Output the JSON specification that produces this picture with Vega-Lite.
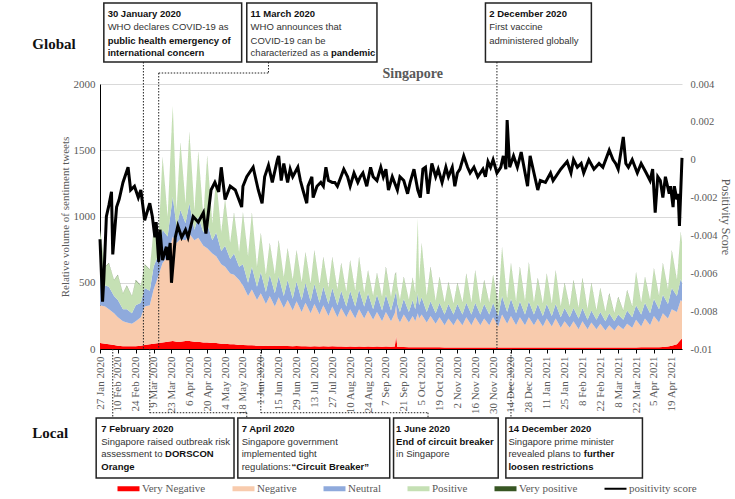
{
"$schema":"https://vega.github.io/schema/vega-lite/v6.json",
"width":582,"height":265,
"autosize":{"type":"none"},
"padding":{"left":100,"top":84,"right":53,"bottom":150},
"background":"white",
"config":{"view":{"stroke":null},"font":"Liberation Serif","axisX":{"labelOverlap":false,"labelFlush":false,"labelBound":false,"tickCount":60}},
"datasets":{
"cats":[{"key":"vn","cat":"Very Negative","ord":1},{"key":"n","cat":"Negative","ord":2},{"key":"neu","cat":"Neutral","ord":3},{"key":"p","cat":"Positive","ord":4},{"key":"vp","cat":"Very positive","ord":5}],
"vol":[
{"d":"2020-01-27","vn":45,"n":285,"neu":270,"p":296,"vp":4},
{"d":"2020-01-31","vn":40,"n":280,"neu":160,"p":138,"vp":2},
{"d":"2020-02-03","vn":35,"n":265,"neu":170,"p":176,"vp":4},
{"d":"2020-02-07","vn":30,"n":240,"neu":130,"p":118,"vp":2},
{"d":"2020-02-10","vn":25,"n":215,"neu":130,"p":186,"vp":4},
{"d":"2020-02-14","vn":20,"n":190,"neu":90,"p":118,"vp":2},
{"d":"2020-02-17","vn":20,"n":180,"neu":100,"p":176,"vp":4},
{"d":"2020-02-21","vn":20,"n":170,"neu":80,"p":128,"vp":2},
{"d":"2020-02-24","vn":20,"n":190,"neu":120,"p":186,"vp":4},
{"d":"2020-02-28","vn":25,"n":215,"neu":110,"p":128,"vp":2},
{"d":"2020-03-02","vn":30,"n":290,"neu":140,"p":176,"vp":4},
{"d":"2020-03-06","vn":35,"n":295,"neu":110,"p":158,"vp":2},
{"d":"2020-03-09","vn":40,"n":410,"neu":170,"p":276,"vp":4},
{"d":"2020-03-13","vn":45,"n":515,"neu":160,"p":138,"vp":2},
{"d":"2020-03-16","vn":50,"n":600,"neu":250,"p":546,"vp":4},
{"d":"2020-03-20","vn":55,"n":645,"neu":150,"p":148,"vp":2},
{"d":"2020-03-24","vn":60,"n":790,"neu":300,"p":686,"vp":4},
{"d":"2020-03-27","vn":55,"n":745,"neu":120,"p":128,"vp":2},
{"d":"2020-03-30","vn":55,"n":775,"neu":220,"p":506,"vp":4},
{"d":"2020-04-03","vn":60,"n":760,"neu":130,"p":148,"vp":2},
{"d":"2020-04-06","vn":60,"n":810,"neu":230,"p":536,"vp":4},
{"d":"2020-04-10","vn":55,"n":765,"neu":80,"p":148,"vp":2},
{"d":"2020-04-13","vn":55,"n":785,"neu":160,"p":486,"vp":4},
{"d":"2020-04-17","vn":50,"n":730,"neu":100,"p":118,"vp":2},
{"d":"2020-04-20","vn":50,"n":710,"neu":190,"p":506,"vp":4},
{"d":"2020-04-24","vn":45,"n":675,"neu":100,"p":128,"vp":2},
{"d":"2020-04-27","vn":45,"n":655,"neu":180,"p":396,"vp":4},
{"d":"2020-05-01","vn":40,"n":600,"neu":100,"p":138,"vp":2},
{"d":"2020-05-04","vn":40,"n":580,"neu":160,"p":346,"vp":4},
{"d":"2020-05-08","vn":35,"n":535,"neu":110,"p":118,"vp":2},
{"d":"2020-05-11","vn":35,"n":525,"neu":160,"p":306,"vp":4},
{"d":"2020-05-15","vn":30,"n":490,"neu":100,"p":108,"vp":2},
{"d":"2020-05-18","vn":30,"n":450,"neu":160,"p":386,"vp":4},
{"d":"2020-05-22","vn":28,"n":372,"neu":100,"p":198,"vp":2},
{"d":"2020-05-25","vn":28,"n":422,"neu":170,"p":406,"vp":4},
{"d":"2020-05-29","vn":25,"n":345,"neu":100,"p":148,"vp":2},
{"d":"2020-06-01","vn":25,"n":395,"neu":160,"p":291,"vp":4},
{"d":"2020-06-05","vn":23,"n":317,"neu":90,"p":128,"vp":2},
{"d":"2020-06-08","vn":25,"n":375,"neu":160,"p":236,"vp":4},
{"d":"2020-06-12","vn":22,"n":298,"neu":100,"p":138,"vp":2},
{"d":"2020-06-15","vn":25,"n":365,"neu":160,"p":266,"vp":4},
{"d":"2020-06-19","vn":22,"n":288,"neu":90,"p":138,"vp":2},
{"d":"2020-06-22","vn":22,"n":348,"neu":150,"p":236,"vp":4},
{"d":"2020-06-26","vn":20,"n":270,"neu":90,"p":138,"vp":2},
{"d":"2020-06-29","vn":22,"n":338,"neu":150,"p":231,"vp":4},
{"d":"2020-07-03","vn":20,"n":260,"neu":90,"p":128,"vp":2},
{"d":"2020-07-06","vn":20,"n":330,"neu":150,"p":226,"vp":4},
{"d":"2020-07-10","vn":18,"n":252,"neu":90,"p":128,"vp":2},
{"d":"2020-07-13","vn":20,"n":320,"neu":150,"p":251,"vp":4},
{"d":"2020-07-17","vn":18,"n":242,"neu":90,"p":128,"vp":2},
{"d":"2020-07-20","vn":20,"n":310,"neu":140,"p":221,"vp":4},
{"d":"2020-07-24","vn":18,"n":232,"neu":90,"p":118,"vp":2},
{"d":"2020-07-27","vn":20,"n":300,"neu":140,"p":231,"vp":4},
{"d":"2020-07-31","vn":18,"n":222,"neu":90,"p":118,"vp":2},
{"d":"2020-08-03","vn":18,"n":292,"neu":130,"p":206,"vp":4},
{"d":"2020-08-07","vn":17,"n":223,"neu":80,"p":108,"vp":2},
{"d":"2020-08-10","vn":18,"n":282,"neu":140,"p":226,"vp":4},
{"d":"2020-08-14","vn":17,"n":213,"neu":90,"p":118,"vp":2},
{"d":"2020-08-17","vn":18,"n":282,"neu":150,"p":241,"vp":4},
{"d":"2020-08-21","vn":17,"n":213,"neu":90,"p":98,"vp":2},
{"d":"2020-08-24","vn":18,"n":272,"neu":130,"p":171,"vp":4},
{"d":"2020-08-28","vn":17,"n":203,"neu":80,"p":98,"vp":2},
{"d":"2020-08-31","vn":18,"n":262,"neu":130,"p":161,"vp":4},
{"d":"2020-09-04","vn":17,"n":193,"neu":80,"p":98,"vp":2},
{"d":"2020-09-07","vn":18,"n":262,"neu":130,"p":206,"vp":4},
{"d":"2020-09-11","vn":17,"n":193,"neu":80,"p":98,"vp":2},
{"d":"2020-09-14","vn":18,"n":252,"neu":130,"p":156,"vp":4},
{"d":"2020-09-15","vn":100,"n":230,"neu":110,"p":136,"vp":4},
{"d":"2020-09-16","vn":16,"n":224,"neu":100,"p":128,"vp":2},
{"d":"2020-09-18","vn":15,"n":185,"neu":80,"p":88,"vp":2},
{"d":"2020-09-21","vn":15,"n":245,"neu":120,"p":161,"vp":4},
{"d":"2020-09-25","vn":14,"n":186,"neu":80,"p":88,"vp":2},
{"d":"2020-09-28","vn":14,"n":236,"neu":120,"p":166,"vp":4},
{"d":"2020-09-30","vn":14,"n":196,"neu":90,"p":118,"vp":2},
{"d":"2020-10-02","vn":14,"n":256,"neu":150,"p":566,"vp":4},
{"d":"2020-10-03","vn":14,"n":216,"neu":100,"p":188,"vp":2},
{"d":"2020-10-05","vn":14,"n":246,"neu":130,"p":406,"vp":4},
{"d":"2020-10-09","vn":13,"n":187,"neu":80,"p":118,"vp":2},
{"d":"2020-10-12","vn":13,"n":237,"neu":110,"p":256,"vp":4},
{"d":"2020-10-16","vn":13,"n":177,"neu":80,"p":88,"vp":2},
{"d":"2020-10-19","vn":13,"n":227,"neu":110,"p":191,"vp":4},
{"d":"2020-10-23","vn":12,"n":168,"neu":80,"p":88,"vp":2},
{"d":"2020-10-26","vn":12,"n":218,"neu":110,"p":161,"vp":4},
{"d":"2020-10-30","vn":12,"n":168,"neu":80,"p":78,"vp":2},
{"d":"2020-11-02","vn":12,"n":218,"neu":110,"p":156,"vp":4},
{"d":"2020-11-06","vn":12,"n":168,"neu":80,"p":88,"vp":2},
{"d":"2020-11-09","vn":12,"n":228,"neu":110,"p":216,"vp":4},
{"d":"2020-11-13","vn":12,"n":168,"neu":80,"p":88,"vp":2},
{"d":"2020-11-16","vn":12,"n":228,"neu":110,"p":241,"vp":4},
{"d":"2020-11-20","vn":12,"n":168,"neu":80,"p":78,"vp":2},
{"d":"2020-11-23","vn":12,"n":218,"neu":110,"p":176,"vp":4},
{"d":"2020-11-27","vn":12,"n":168,"neu":80,"p":88,"vp":2},
{"d":"2020-11-30","vn":12,"n":228,"neu":110,"p":206,"vp":4},
{"d":"2020-12-04","vn":12,"n":158,"neu":80,"p":88,"vp":2},
{"d":"2020-12-07","vn":12,"n":248,"neu":140,"p":366,"vp":4},
{"d":"2020-12-11","vn":12,"n":178,"neu":90,"p":98,"vp":2},
{"d":"2020-12-14","vn":12,"n":238,"neu":130,"p":266,"vp":4},
{"d":"2020-12-18","vn":12,"n":168,"neu":90,"p":88,"vp":2},
{"d":"2020-12-21","vn":12,"n":228,"neu":120,"p":256,"vp":4},
{"d":"2020-12-25","vn":12,"n":168,"neu":80,"p":98,"vp":2},
{"d":"2020-12-28","vn":12,"n":228,"neu":120,"p":291,"vp":4},
{"d":"2021-01-01","vn":12,"n":168,"neu":80,"p":88,"vp":2},
{"d":"2021-01-04","vn":12,"n":218,"neu":110,"p":191,"vp":4},
{"d":"2021-01-08","vn":12,"n":158,"neu":80,"p":88,"vp":2},
{"d":"2021-01-11","vn":12,"n":218,"neu":110,"p":226,"vp":4},
{"d":"2021-01-15","vn":12,"n":158,"neu":80,"p":88,"vp":2},
{"d":"2021-01-18","vn":12,"n":218,"neu":110,"p":251,"vp":4},
{"d":"2021-01-22","vn":12,"n":148,"neu":80,"p":78,"vp":2},
{"d":"2021-01-25","vn":12,"n":198,"neu":100,"p":186,"vp":4},
{"d":"2021-01-29","vn":12,"n":148,"neu":80,"p":78,"vp":2},
{"d":"2021-02-01","vn":12,"n":198,"neu":100,"p":206,"vp":4},
{"d":"2021-02-05","vn":12,"n":138,"neu":80,"p":78,"vp":2},
{"d":"2021-02-08","vn":12,"n":198,"neu":100,"p":221,"vp":4},
{"d":"2021-02-12","vn":12,"n":138,"neu":70,"p":78,"vp":2},
{"d":"2021-02-15","vn":12,"n":188,"neu":90,"p":206,"vp":4},
{"d":"2021-02-19","vn":12,"n":138,"neu":70,"p":68,"vp":2},
{"d":"2021-02-22","vn":12,"n":178,"neu":90,"p":176,"vp":4},
{"d":"2021-02-26","vn":12,"n":128,"neu":70,"p":68,"vp":2},
{"d":"2021-03-01","vn":12,"n":168,"neu":90,"p":146,"vp":4},
{"d":"2021-03-05","vn":12,"n":128,"neu":70,"p":58,"vp":2},
{"d":"2021-03-08","vn":12,"n":168,"neu":80,"p":131,"vp":4},
{"d":"2021-03-12","vn":12,"n":138,"neu":70,"p":68,"vp":2},
{"d":"2021-03-15","vn":12,"n":178,"neu":100,"p":151,"vp":4},
{"d":"2021-03-19","vn":12,"n":148,"neu":80,"p":78,"vp":2},
{"d":"2021-03-22","vn":12,"n":208,"neu":110,"p":246,"vp":4},
{"d":"2021-03-26","vn":13,"n":157,"neu":90,"p":88,"vp":2},
{"d":"2021-03-29","vn":13,"n":217,"neu":120,"p":191,"vp":4},
{"d":"2021-04-02","vn":13,"n":167,"neu":90,"p":98,"vp":2},
{"d":"2021-04-05","vn":14,"n":236,"neu":130,"p":226,"vp":4},
{"d":"2021-04-09","vn":14,"n":186,"neu":100,"p":98,"vp":2},
{"d":"2021-04-12","vn":15,"n":255,"neu":140,"p":236,"vp":4},
{"d":"2021-04-16","vn":18,"n":212,"neu":110,"p":108,"vp":2},
{"d":"2021-04-19","vn":25,"n":275,"neu":160,"p":281,"vp":4},
{"d":"2021-04-23","vn":35,"n":245,"neu":120,"p":118,"vp":2},
{"d":"2021-04-26","vn":70,"n":300,"neu":160,"p":351,"vp":4},
{"d":"2021-04-27","vn":80,"n":280,"neu":140,"p":296,"vp":4}
],
"score":[
{"d":"2020-01-27","s":-0.0042},{"d":"2020-01-29","s":-0.0075},{"d":"2020-01-30","s":-0.0063},{"d":"2020-02-01","s":-0.0030},{"d":"2020-02-03","s":-0.0024},{"d":"2020-02-05","s":-0.0017},{"d":"2020-02-06","s":-0.0050},{"d":"2020-02-09","s":-0.0025},{"d":"2020-02-11","s":-0.0021},{"d":"2020-02-14","s":-0.0012},{"d":"2020-02-18","s":-0.0004},{"d":"2020-02-20","s":-0.0016},{"d":"2020-02-23","s":-0.0014},{"d":"2020-02-26","s":-0.0020},{"d":"2020-02-28","s":-0.0016},
{"d":"2020-03-02","s":-0.0032},{"d":"2020-03-06","s":-0.0023},{"d":"2020-03-08","s":-0.0030},{"d":"2020-03-10","s":-0.0041},{"d":"2020-03-11","s":-0.0033},{"d":"2020-03-13","s":-0.0054},{"d":"2020-03-14","s":-0.0037},{"d":"2020-03-16","s":-0.0053},{"d":"2020-03-19","s":-0.0046},{"d":"2020-03-20","s":-0.0053},{"d":"2020-03-22","s":-0.0044},{"d":"2020-03-23","s":-0.0065},{"d":"2020-03-26","s":-0.0041},{"d":"2020-03-28","s":-0.0035},{"d":"2020-03-31","s":-0.0041},
{"d":"2020-04-03","s":-0.0037},{"d":"2020-04-05","s":-0.0041},{"d":"2020-04-09","s":-0.0030},{"d":"2020-04-13","s":-0.0033},{"d":"2020-04-17","s":-0.0028},{"d":"2020-04-19","s":-0.0039},{"d":"2020-04-23","s":-0.0016},{"d":"2020-04-26","s":-0.0012},{"d":"2020-04-29","s":-0.0017},
{"d":"2020-05-01","s":-0.0004},{"d":"2020-05-04","s":-0.0021},{"d":"2020-05-08","s":-0.0014},{"d":"2020-05-12","s":-0.0016},{"d":"2020-05-17","s":-0.0025},{"d":"2020-05-18","s":-0.0014},{"d":"2020-05-21","s":-0.0009},{"d":"2020-05-26","s":-0.0004},{"d":"2020-05-30","s":-0.0016},
{"d":"2020-06-02","s":-0.0023},{"d":"2020-06-04","s":-0.0009},{"d":"2020-06-07","s":-0.0003},{"d":"2020-06-10","s":-0.0012},{"d":"2020-06-14","s":0.0},{"d":"2020-06-15","s":0.0002},{"d":"2020-06-17","s":-0.0011},{"d":"2020-06-19","s":-0.0002},{"d":"2020-06-22","s":-0.0012},{"d":"2020-06-24","s":-0.0005},{"d":"2020-06-26","s":-0.0009},{"d":"2020-06-30","s":-0.0004},
{"d":"2020-07-02","s":-0.0011},{"d":"2020-07-04","s":-0.0016},{"d":"2020-07-07","s":-0.0023},{"d":"2020-07-08","s":-0.0014},{"d":"2020-07-11","s":-0.0009},{"d":"2020-07-12","s":-0.0020},{"d":"2020-07-15","s":-0.0014},{"d":"2020-07-18","s":-0.0012},{"d":"2020-07-20","s":-0.0014},{"d":"2020-07-22","s":-0.0004},{"d":"2020-07-24","s":-0.0011},{"d":"2020-07-27","s":-0.0012},{"d":"2020-07-29","s":-0.0012},{"d":"2020-07-31","s":-0.0014},
{"d":"2020-08-05","s":-0.0005},{"d":"2020-08-08","s":-0.0009},{"d":"2020-08-10","s":-0.0014},{"d":"2020-08-13","s":-0.0007},{"d":"2020-08-16","s":-0.0012},{"d":"2020-08-18","s":-0.0009},{"d":"2020-08-20","s":-0.0007},{"d":"2020-08-23","s":-0.0014},{"d":"2020-08-26","s":-0.0004},{"d":"2020-08-28","s":-0.0009},{"d":"2020-08-31","s":-0.0011},
{"d":"2020-09-03","s":-0.0004},{"d":"2020-09-05","s":-0.0009},{"d":"2020-09-07","s":-0.0005},{"d":"2020-09-09","s":-0.0016},{"d":"2020-09-12","s":-0.0009},{"d":"2020-09-16","s":-0.0016},{"d":"2020-09-18","s":-0.0009},{"d":"2020-09-21","s":-0.0011},{"d":"2020-09-24","s":-0.0018},{"d":"2020-09-26","s":-0.0012},{"d":"2020-09-29","s":-0.0005},
{"d":"2020-10-02","s":-0.0016},{"d":"2020-10-04","s":-0.0020},{"d":"2020-10-06","s":-0.0005},{"d":"2020-10-08","s":-0.0004},{"d":"2020-10-10","s":-0.0018},{"d":"2020-10-13","s":-0.0002},{"d":"2020-10-16","s":-0.0009},{"d":"2020-10-18","s":-0.0005},{"d":"2020-10-21","s":-0.0012},{"d":"2020-10-24","s":-0.0004},{"d":"2020-10-26","s":-0.0009},{"d":"2020-10-29","s":-0.0004},{"d":"2020-10-31","s":-0.0014},
{"d":"2020-11-02","s":-0.0007},{"d":"2020-11-04","s":-0.0005},{"d":"2020-11-07","s":0.0002},{"d":"2020-11-10","s":-0.0004},{"d":"2020-11-12","s":-0.0007},{"d":"2020-11-15","s":-0.0004},{"d":"2020-11-18","s":-0.0009},{"d":"2020-11-22","s":-0.0005},{"d":"2020-11-24","s":-0.0009},{"d":"2020-11-26","s":-0.0001},{"d":"2020-11-28","s":-0.0004},{"d":"2020-11-30","s":0.0},
{"d":"2020-12-03","s":-0.0007},{"d":"2020-12-06","s":-0.0004},{"d":"2020-12-08","s":0.0002},{"d":"2020-12-10","s":-0.0005},{"d":"2020-12-11","s":0.0021},{"d":"2020-12-13","s":-0.0004},{"d":"2020-12-16","s":0.0002},{"d":"2020-12-19","s":-0.0004},{"d":"2020-12-22","s":0.0004},{"d":"2020-12-27","s":-0.0014},{"d":"2020-12-29","s":0.0002},
{"d":"2021-01-04","s":-0.0016},{"d":"2021-01-06","s":-0.0011},{"d":"2021-01-10","s":-0.0012},{"d":"2021-01-14","s":-0.0007},{"d":"2021-01-16","s":-0.0011},{"d":"2021-01-22","s":-0.0005},{"d":"2021-01-27","s":-0.0001},{"d":"2021-01-30","s":-0.0007},
{"d":"2021-02-01","s":0.0},{"d":"2021-02-04","s":-0.0004},{"d":"2021-02-07","s":-0.0002},{"d":"2021-02-09","s":-0.0007},{"d":"2021-02-13","s":0.0},{"d":"2021-02-17","s":-0.0005},{"d":"2021-02-21","s":-0.0002},{"d":"2021-02-24","s":-0.0004},
{"d":"2021-03-01","s":0.0005},{"d":"2021-03-04","s":0.0},{"d":"2021-03-06","s":-0.0002},{"d":"2021-03-08","s":-0.0005},{"d":"2021-03-12","s":0.0012},{"d":"2021-03-14","s":-0.0002},{"d":"2021-03-16","s":-0.0004},{"d":"2021-03-19","s":0.0},{"d":"2021-03-23","s":-0.0007},{"d":"2021-03-26","s":-0.0002},{"d":"2021-03-30","s":-0.0007},
{"d":"2021-04-02","s":-0.0011},{"d":"2021-04-04","s":-0.0005},{"d":"2021-04-06","s":-0.0028},{"d":"2021-04-08","s":-0.0009},{"d":"2021-04-10","s":-0.0011},{"d":"2021-04-12","s":-0.0020},{"d":"2021-04-14","s":-0.0009},{"d":"2021-04-17","s":-0.0018},{"d":"2021-04-18","s":-0.0014},{"d":"2021-04-20","s":-0.0025},{"d":"2021-04-21","s":-0.0014},{"d":"2021-04-23","s":-0.0021},{"d":"2021-04-24","s":-0.0018},{"d":"2021-04-25","s":-0.0035},{"d":"2021-04-27","s":0.0001}
],
"boxes":[
{"d1":"2020-01-30","d2":"2020-05-17","v1":2166,"v2":2611},
{"d1":"2020-05-21","d2":"2020-08-31","v1":2166,"v2":2611},
{"d1":"2020-11-24","d2":"2021-02-15","v1":2166,"v2":2611},
{"d1":"2020-01-24","d2":"2020-05-11","v1":-521,"v2":-974},
{"d1":"2020-05-14","d2":"2020-09-10","v1":-521,"v2":-974},
{"d1":"2020-09-13","d2":"2020-12-04","v1":-521,"v2":-974},
{"d1":"2020-12-10","d2":"2021-03-27","v1":-521,"v2":-974}
],
"links":[
{"d1":"2020-03-01","d2":"2020-03-01","v1":2166,"v2":0},
{"d1":"2020-06-07","d2":"2020-06-07","v1":2166,"v2":2083},
{"d1":"2020-03-13","d2":"2020-06-07","v1":2083,"v2":2083},
{"d1":"2020-03-13","d2":"2020-03-13","v1":2083,"v2":0},
{"d1":"2020-12-03","d2":"2020-12-03","v1":2166,"v2":0},
{"d1":"2020-02-06","d2":"2020-02-06","v1":0,"v2":-521},
{"d1":"2020-03-06","d2":"2020-03-06","v1":0,"v2":-481},
{"d1":"2020-03-06","d2":"2020-05-21","v1":-481,"v2":-481},
{"d1":"2020-05-21","d2":"2020-05-21","v1":-481,"v2":-521},
{"d1":"2020-06-01","d2":"2020-06-01","v1":0,"v2":-481},
{"d1":"2020-06-01","d2":"2020-10-10","v1":-481,"v2":-481},
{"d1":"2020-10-10","d2":"2020-10-10","v1":-481,"v2":-521},
{"d1":"2020-12-14","d2":"2020-12-14","v1":0,"v2":-521}
],
"bold":[
{"d":"2020-02-02","v":2526,"t":"30 January 2020"},
{"d":"2020-02-02","v":2328,"t":"public health emergency of"},
{"d":"2020-02-02","v":2234,"t":"international concern"},
{"d":"2020-05-24","v":2526,"t":"11 March 2020"},
{"d":"2020-07-26","v":2234,"t":"pandemic"},
{"d":"2020-11-27","v":2526,"t":"2 December 2020"},
{"d":"2020-01-28","v":-604,"t":"7 February 2020"},
{"d":"2020-03-18","v":-794,"t":"DORSCON"},
{"d":"2020-01-28","v":-889,"t":"Orange"},
{"d":"2020-05-17","v":-604,"t":"7 April 2020"},
{"d":"2020-06-25","v":-889,"t":"“Circuit Breaker”"},
{"d":"2020-09-15","v":-604,"t":"1 June 2020"},
{"d":"2020-09-15","v":-699,"t":"End of circuit breaker"},
{"d":"2020-12-12","v":-604,"t":"14 December 2020"},
{"d":"2021-02-09","v":-794,"t":"further"},
{"d":"2020-12-12","v":-889,"t":"loosen restrictions"}
],
"plain":[
{"d":"2020-02-02","v":2428,"t":"WHO declares COVID-19 as"},
{"d":"2020-05-24","v":2428,"t":"WHO announces that"},
{"d":"2020-05-24","v":2328,"t":"COVID-19 can be"},
{"d":"2020-05-24","v":2234,"t":"characterized as a"},
{"d":"2020-11-27","v":2428,"t":"First vaccine"},
{"d":"2020-11-27","v":2328,"t":"administered globally"},
{"d":"2020-01-28","v":-699,"t":"Singapore raised outbreak risk"},
{"d":"2020-01-28","v":-794,"t":"assessment to"},
{"d":"2020-05-17","v":-699,"t":"Singapore government"},
{"d":"2020-05-17","v":-794,"t":"implemented tight"},
{"d":"2020-05-17","v":-889,"t":"regulations:"},
{"d":"2020-09-15","v":-794,"t":"in Singapore"},
{"d":"2020-12-12","v":-699,"t":"Singapore prime minister"},
{"d":"2020-12-12","v":-794,"t":"revealed plans to"}
],
"side":[{"d":"2019-12-05","v":2302,"t":"Global"},{"d":"2019-12-05","v":-634,"t":"Local"}],
"heading":[{"d":"2020-09-28","v":2075,"t":"Singapore"}]
},
"layer":[
{
"layer":[
{
"data":{"name":"vol"},
"transform":[
{"fold":["vn","n","neu","p","vp"],"as":["key","val"]},
{"lookup":"key","from":{"data":{"name":"cats"},"key":"key","fields":["cat","ord"]}}
],
"mark":{"type":"area","interpolate":"linear"},
"encoding":{
"x":{"field":"d","type":"temporal","scale":{"type":"utc","domain":[{"year":2020,"month":1,"date":27,"utc":true},{"year":2021,"month":4,"date":27,"utc":true}]},
"axis":{"values":[
{"year":2020,"month":1,"date":27,"utc":true},{"year":2020,"month":2,"date":10,"utc":true},{"year":2020,"month":2,"date":24,"utc":true},{"year":2020,"month":3,"date":9,"utc":true},{"year":2020,"month":3,"date":23,"utc":true},{"year":2020,"month":4,"date":6,"utc":true},{"year":2020,"month":4,"date":20,"utc":true},{"year":2020,"month":5,"date":4,"utc":true},{"year":2020,"month":5,"date":18,"utc":true},{"year":2020,"month":6,"date":1,"utc":true},{"year":2020,"month":6,"date":15,"utc":true},{"year":2020,"month":6,"date":29,"utc":true},{"year":2020,"month":7,"date":13,"utc":true},{"year":2020,"month":7,"date":27,"utc":true},{"year":2020,"month":8,"date":10,"utc":true},{"year":2020,"month":8,"date":24,"utc":true},{"year":2020,"month":9,"date":7,"utc":true},{"year":2020,"month":9,"date":21,"utc":true},{"year":2020,"month":10,"date":5,"utc":true},{"year":2020,"month":10,"date":19,"utc":true},{"year":2020,"month":11,"date":2,"utc":true},{"year":2020,"month":11,"date":16,"utc":true},{"year":2020,"month":11,"date":30,"utc":true},{"year":2020,"month":12,"date":14,"utc":true},{"year":2020,"month":12,"date":28,"utc":true},{"year":2021,"month":1,"date":11,"utc":true},{"year":2021,"month":1,"date":25,"utc":true},{"year":2021,"month":2,"date":8,"utc":true},{"year":2021,"month":2,"date":22,"utc":true},{"year":2021,"month":3,"date":8,"utc":true},{"year":2021,"month":3,"date":22,"utc":true},{"year":2021,"month":4,"date":5,"utc":true},{"year":2021,"month":4,"date":19,"utc":true}],
"tickCount":60,"format":"%-d %b %Y","labelAngle":-90,"labelFont":"Liberation Serif","labelFontSize":11,"labelColor":"#595959","domainColor":"black","domainWidth":1,"tickColor":"black","tickSize":4,"labelPadding":3,"grid":false,"title":null,"labelOverlap":false,"labelBound":false,"labelFlush":false,"labelSeparation":0}},
"y":{"field":"val","type":"quantitative","stack":"zero","scale":{"domain":[0,2000],"nice":false},
"axis":{"values":[0,500,1000,1500,2000],"tickCount":20,"format":"d","grid":true,"gridColor":"#d9d9d9","domainColor":"black","ticks":false,"labelPadding":5,"labelFont":"Liberation Serif","labelFontSize":11,"labelColor":"#595959","title":"Relative volume of sentiment tweets","titleFont":"Liberation Serif","titleFontSize":11,"titleFontWeight":"normal","titleColor":"#595959","titlePadding":3}},
"color":{"field":"cat","type":"nominal","scale":{"domain":["Very Negative","Negative","Neutral","Positive","Very positive","positivity score"],"range":["#ff0000","#f8cbad","#8faadc","#c5e0b4","#375623","#000000"]},
"legend":{"orient":"none","legendX":23,"legendY":399,"direction":"horizontal","columns":6,"title":null,"symbolSize":100,"symbolType":"M-2.2,-0.5H2.2V0.5H-2.2Z","symbolStrokeWidth":0,"symbolOpacity":1,"labelFont":"Liberation Serif","labelFontSize":11,"labelColor":"#595959","labelOffset":8,"columnPadding":26,"padding":0,
"encode":{"symbols":{"update":{"shape":{"signal":"datum.value === 'positivity score' ? 'M-2.2,-0.2H2.2V0.2H-2.2Z' : 'M-2.2,-0.5H2.2V0.5H-2.2Z'"},"fill":{"scale":"color","field":"value"},"strokeWidth":{"value":0},"opacity":{"value":1}}}}}},
"order":{"field":"ord","type":"quantitative"}
}
},
{
"data":{"name":"links"},
"mark":{"type":"rule","color":"#222222","strokeWidth":1,"strokeDash":[1.5,1.5]},
"encoding":{
"x":{"field":"d1","type":"temporal"},
"x2":{"field":"d2"},
"y":{"field":"v1","type":"quantitative"},
"y2":{"field":"v2"}
}
},
{
"data":{"name":"boxes"},
"mark":{"type":"rect","fill":"white","stroke":"#222222","strokeWidth":1.5},
"encoding":{
"x":{"field":"d1","type":"temporal"},
"x2":{"field":"d2"},
"y":{"field":"v1","type":"quantitative"},
"y2":{"field":"v2"}
}
},
{
"data":{"name":"plain"},
"mark":{"type":"text","align":"left","baseline":"middle","font":"Liberation Sans","fontSize":9.5,"color":"#333333"},
"encoding":{
"x":{"field":"d","type":"temporal"},
"y":{"field":"v","type":"quantitative"},
"text":{"field":"t"}
}
},
{
"data":{"name":"bold"},
"mark":{"type":"text","align":"left","baseline":"middle","font":"Liberation Sans","fontSize":9.5,"fontWeight":"bold","color":"#111111"},
"encoding":{
"x":{"field":"d","type":"temporal"},
"y":{"field":"v","type":"quantitative"},
"text":{"field":"t"}
}
},
{
"data":{"name":"side"},
"mark":{"type":"text","align":"left","baseline":"middle","font":"Liberation Serif","fontSize":15,"fontWeight":"bold","color":"#111111"},
"encoding":{
"x":{"field":"d","type":"temporal"},
"y":{"field":"v","type":"quantitative"},
"text":{"field":"t"}
}
},
{
"data":{"name":"heading"},
"mark":{"type":"text","align":"center","baseline":"middle","font":"Liberation Serif","fontSize":14,"fontWeight":"bold","color":"#595959"},
"encoding":{
"x":{"field":"d","type":"temporal"},
"y":{"field":"v","type":"quantitative"},
"text":{"field":"t"}
}
}
]
},
{
"data":{"name":"score"},
"mark":{"type":"line","strokeWidth":3,"interpolate":"linear"},
"encoding":{
"x":{"field":"d","type":"temporal",
"axis":{"values":[
{"year":2020,"month":1,"date":27,"utc":true},{"year":2020,"month":2,"date":10,"utc":true},{"year":2020,"month":2,"date":24,"utc":true},{"year":2020,"month":3,"date":9,"utc":true},{"year":2020,"month":3,"date":23,"utc":true},{"year":2020,"month":4,"date":6,"utc":true},{"year":2020,"month":4,"date":20,"utc":true},{"year":2020,"month":5,"date":4,"utc":true},{"year":2020,"month":5,"date":18,"utc":true},{"year":2020,"month":6,"date":1,"utc":true},{"year":2020,"month":6,"date":15,"utc":true},{"year":2020,"month":6,"date":29,"utc":true},{"year":2020,"month":7,"date":13,"utc":true},{"year":2020,"month":7,"date":27,"utc":true},{"year":2020,"month":8,"date":10,"utc":true},{"year":2020,"month":8,"date":24,"utc":true},{"year":2020,"month":9,"date":7,"utc":true},{"year":2020,"month":9,"date":21,"utc":true},{"year":2020,"month":10,"date":5,"utc":true},{"year":2020,"month":10,"date":19,"utc":true},{"year":2020,"month":11,"date":2,"utc":true},{"year":2020,"month":11,"date":16,"utc":true},{"year":2020,"month":11,"date":30,"utc":true},{"year":2020,"month":12,"date":14,"utc":true},{"year":2020,"month":12,"date":28,"utc":true},{"year":2021,"month":1,"date":11,"utc":true},{"year":2021,"month":1,"date":25,"utc":true},{"year":2021,"month":2,"date":8,"utc":true},{"year":2021,"month":2,"date":22,"utc":true},{"year":2021,"month":3,"date":8,"utc":true},{"year":2021,"month":3,"date":22,"utc":true},{"year":2021,"month":4,"date":5,"utc":true},{"year":2021,"month":4,"date":19,"utc":true}],
"tickCount":60,"format":"%-d %b %Y","labelAngle":-90,"labelFont":"Liberation Serif","labelFontSize":11,"labelColor":"#595959","domainColor":"black","domainWidth":1,"tickColor":"black","tickSize":4,"labelPadding":3,"grid":false,"title":null,"labelOverlap":false,"labelBound":false,"labelFlush":false,"labelSeparation":0}},
"y":{"field":"s","type":"quantitative","scale":{"domain":[-0.01,0.004],"nice":false,"zero":false},
"axis":{"orient":"right","values":[-0.01,-0.008,-0.006,-0.004,-0.002,0,0.002,0.004],"tickCount":20,"labelExpr":"replace(format(datum.value,'~g'),'−','-')","domain":false,"ticks":false,"grid":false,"labelPadding":8,"labelFont":"Liberation Serif","labelFontSize":10.5,"labelColor":"#595959","title":"Positivity Score","titleFont":"Liberation Serif","titleFontSize":12,"titleFontWeight":"normal","titleColor":"#595959","titlePadding":1}},
"color":{"datum":"positivity score","type":"nominal","scale":{"domain":["Very Negative","Negative","Neutral","Positive","Very positive","positivity score"],"range":["#ff0000","#f8cbad","#8faadc","#c5e0b4","#375623","#000000"]},
"legend":{"orient":"none","legendX":23,"legendY":399,"direction":"horizontal","columns":6,"title":null,"symbolSize":100,"symbolType":"M-2.2,-0.5H2.2V0.5H-2.2Z","symbolStrokeWidth":0,"symbolOpacity":1,"labelFont":"Liberation Serif","labelFontSize":11,"labelColor":"#595959","labelOffset":8,"columnPadding":26,"padding":0,
"encode":{"symbols":{"update":{"shape":{"signal":"datum.value === 'positivity score' ? 'M-2.2,-0.2H2.2V0.2H-2.2Z' : 'M-2.2,-0.5H2.2V0.5H-2.2Z'"},"fill":{"scale":"color","field":"value"},"strokeWidth":{"value":0},"opacity":{"value":1}}}}}}
}
}
],
"resolve":{"scale":{"y":"independent"}}
}
